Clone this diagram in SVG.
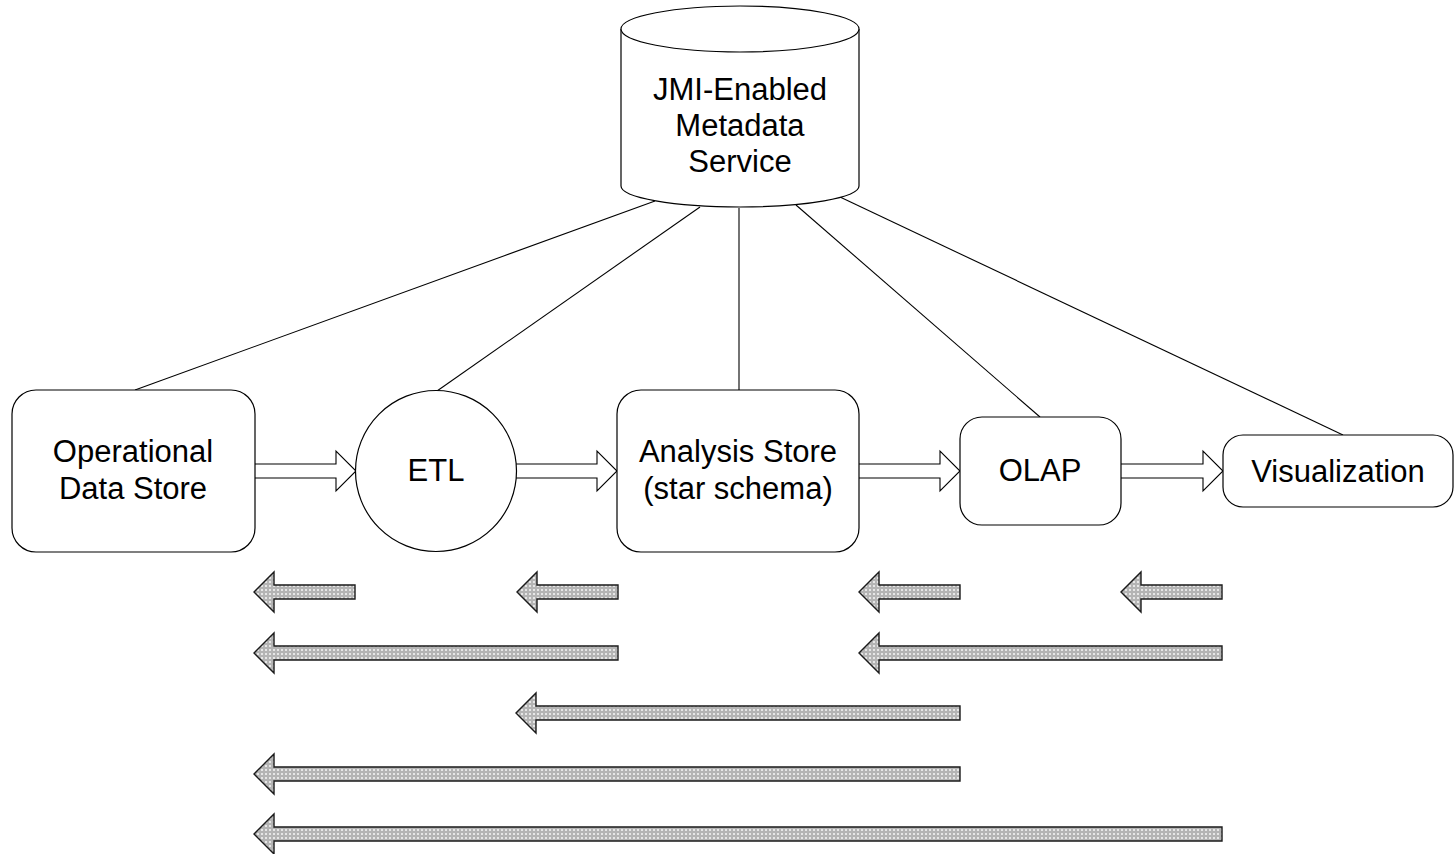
<svg xmlns="http://www.w3.org/2000/svg" width="1454" height="854" viewBox="0 0 1454 854">
  <defs>
    <pattern id="stipple" width="4" height="4" patternUnits="userSpaceOnUse">
      <rect width="4" height="4" fill="#b4b4b4"/>
      <rect x="1" y="1" width="2" height="2" fill="#e6e6e6"/>
    </pattern>
    <style>
      .shape { fill: #ffffff; stroke: #000000; stroke-width: 1.2; }
      .label { font-family: "Liberation Sans", Arial, sans-serif; font-size: 31px; fill: #000000; text-anchor: middle; }
      .link { stroke: #000000; stroke-width: 1.1; fill: none; }
      .flow { fill: #ffffff; stroke: #000000; stroke-width: 1.1; }
      .back { fill: url(#stipple); stroke: #1a1a1a; stroke-width: 1.4; stroke-linejoin: miter; }
    </style>
  </defs>

  <!-- links from the metadata service down to each tool -->
  <g id="connectors">
    <line class="link" x1="655" y1="201" x2="135" y2="390"/>
    <line class="link" x1="700" y1="207" x2="437" y2="391"/>
    <line class="link" x1="739" y1="208" x2="739" y2="390"/>
    <line class="link" x1="796" y1="205" x2="1040" y2="417"/>
    <line class="link" x1="840" y1="197" x2="1343" y2="435"/>

    <!-- forward data flow (hollow arrows) -->
    <path class="flow" d="M255,464 L336,464 L336,451 L356,471 L336,491 L336,478 L255,478"/>
    <path class="flow" d="M516,464 L597,464 L597,451 L617,471 L597,491 L597,478 L516,478"/>
    <path class="flow" d="M859,464 L940,464 L940,451 L960,471 L940,491 L940,478 L859,478"/>
    <path class="flow" d="M1121,464 L1203,464 L1203,451 L1223,471 L1203,491 L1203,478 L1121,478"/>

    <!-- feedback paths (stippled arrows) -->
    <path class="back" d="M254,592 L274,572 L274,585 L355,585 L355,599 L274,599 L274,612 Z"/>
    <path class="back" d="M517,592 L537,572 L537,585 L618,585 L618,599 L537,599 L537,612 Z"/>
    <path class="back" d="M859,592 L879,572 L879,585 L960,585 L960,599 L879,599 L879,612 Z"/>
    <path class="back" d="M1121,592 L1141,572 L1141,585 L1222,585 L1222,599 L1141,599 L1141,612 Z"/>

    <path class="back" d="M254,653 L274,633 L274,646 L618,646 L618,660 L274,660 L274,673 Z"/>
    <path class="back" d="M859,653 L879,633 L879,646 L1222,646 L1222,660 L879,660 L879,673 Z"/>

    <path class="back" d="M516,713 L536,693 L536,706 L960,706 L960,720 L536,720 L536,733 Z"/>

    <path class="back" d="M254,774 L274,754 L274,767 L960,767 L960,781 L274,781 L274,794 Z"/>

    <path class="back" d="M254,834 L274,814 L274,827 L1222,827 L1222,841 L274,841 L274,854 Z"/>
  </g>

  <g id="metadata-service">
    <path class="shape" d="M621,29 L621,186 A119,21 0 0 0 859,186 L859,29"/>
    <ellipse class="shape" cx="740" cy="29" rx="119" ry="23"/>
    <text class="label" x="740" y="100">JMI-Enabled</text>
    <text class="label" x="740" y="136">Metadata</text>
    <text class="label" x="740" y="172">Service</text>
  </g>

  <g id="operational-data-store">
    <rect class="shape" x="12" y="390" width="243" height="162" rx="24" ry="24"/>
    <text class="label" x="133" y="462">Operational</text>
    <text class="label" x="133" y="499">Data Store</text>
  </g>

  <g id="etl">
    <circle class="shape" cx="436" cy="471" r="80.5"/>
    <text class="label" x="436" y="481">ETL</text>
  </g>

  <g id="analysis-store">
    <rect class="shape" x="617" y="390" width="242" height="162" rx="24" ry="24"/>
    <text class="label" x="738" y="462">Analysis Store</text>
    <text class="label" x="738" y="499">(star schema)</text>
  </g>

  <g id="olap">
    <rect class="shape" x="960" y="417" width="161" height="108" rx="22" ry="22"/>
    <text class="label" x="1040" y="481">OLAP</text>
  </g>

  <g id="visualization">
    <rect class="shape" x="1223" y="435" width="230" height="72" rx="20" ry="20"/>
    <text class="label" x="1338" y="482">Visualization</text>
  </g>
</svg>
